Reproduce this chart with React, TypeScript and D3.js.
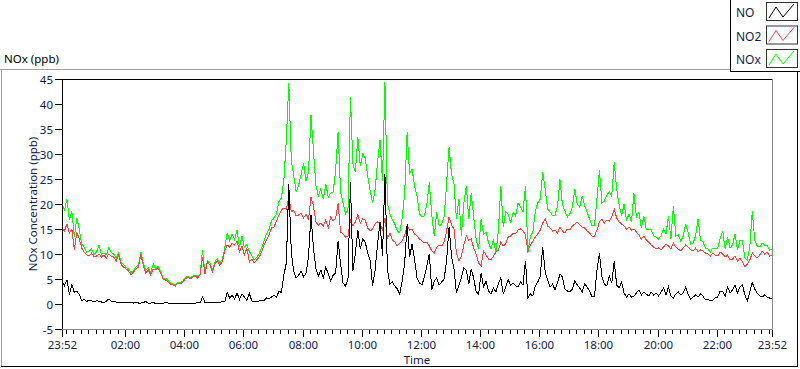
import React, { useEffect, useRef } from 'react';
import * as d3 from 'd3';

// samples every 5 minutes, starting 23:52
const startTime = new Date(2024, 0, 1, 23, 52);
const endTime = new Date(2024, 0, 2, 23, 52);
const stepMinutes = 5;

const noValues = [
  4.5,3.7, 4.8,1.9, 3.9,2.3, 2.6,1.9, 0.7,0.9, 0.5,0.8, 0.6,0.4, 0.7,0.5, 0.4,0.3, 0.6,1.0,
  0.6,0.5, 0.4,0.3, 0.3,0.4, 0.2,0.3, 0.4,0.2, 0.3,0.2, 0.2,0.3, 0.5,0.2, 0.2,0.3, 0.1,0.2,
  0.2,0.1, 0.3,0.2, 0.1,0.2, 0.2,0.1, 0.1,0.2, 0.1,0.2, 0.2,0.1, 0.1,0.3, 0.2,1.4, 0.3,0.2,
  0.3,0.2, 0.3,0.4, 0.3,0.5, 0.4,2.4, 1.2,1.8, 1.0,2.2, 0.9,2.0, 1.4,0.7, 2.1,0.6, 0.5,0.4,
  0.6,0.8, 0.7,1.2, 1.0,1.4, 1.8,1.3, 2.6,2.3, 5.8,8.2, 24.0,10.5, 6.5,5.2, 5.8,6.6, 5.4,6.2,
  9.5,17.8, 11.2,7.0, 5.6,6.8, 5.2,7.4, 6.0,4.6, 5.8,6.2, 12.6,8.0, 4.2,3.6, 5.0,24.4, 6.6,10.2,
  14.8,11.0, 13.0,12.4, 10.2,8.8, 3.6,6.8, 12.0,16.4, 9.6,26.0, 7.0,4.0, 4.4,3.6, 3.0,2.0, 4.6,8.2,
  16.0,9.4, 12.0,9.0, 5.2,4.2, 3.8,5.4, 7.6,10.0, 2.8,4.6, 5.2,3.8, 4.4,5.0, 8.6,15.4, 9.6,7.0,
  2.2,3.8, 5.2,7.2, 6.8,4.0, 7.0,5.2, 2.4,2.0, 6.2,3.4, 4.6,2.6, 2.0,3.2, 2.4,4.0, 5.2,2.0,
  3.4,4.8, 3.8,4.2, 3.6,3.4, 4.4,3.8, 8.6,1.2, 2.0,1.6, 3.6,4.4, 5.6,11.4, 6.4,4.8, 3.4,4.0,
  2.8,4.2, 6.0,5.4, 3.0,2.6, 2.4,3.0, 4.6,3.8, 3.2,2.4, 4.0,3.4, 2.6,1.4, 1.6,6.8, 10.2,5.4,
  4.0,3.6, 5.6,4.2, 8.6,3.8, 3.2,4.4, 2.2,1.4, 2.0,1.4, 1.6,2.2, 2.8,1.8, 2.4,2.0, 1.6,2.4,
  1.8,2.2, 1.6,2.4, 3.2,1.8, 3.4,1.6, 1.2,2.0, 2.4,1.8, 2.2,3.4, 1.8,1.0, 1.4,1.8, 1.4,2.0,
  1.6,0.8, 1.0,0.6, 0.8,1.2, 1.4,2.6, 2.6,1.6, 3.4,2.2, 2.8,3.8, 2.2,3.4, 3.8,1.8, 0.6,2.4,
  4.3,3.0, 2.2,1.6, 1.4,1.8, 1.4,1.2, 1.2,
];

const no2Values = [
  15.2,14.6, 16.0,14.2, 15.0,10.8, 14.4,13.0, 11.2,10.4, 9.8,9.6, 10.2,9.4, 9.6,10.0, 9.4,9.8, 9.2,10.0,
  9.6,9.4, 8.6,9.8, 7.8,7.4, 7.0,6.6, 5.8,6.4, 7.0,7.4, 10.0,7.6, 6.2,6.8, 5.8,7.0, 6.8,7.2,
  6.2,5.0, 4.8,4.4, 4.0,3.8, 3.6,4.2, 4.0,4.4, 5.0,5.4, 5.0,5.4, 5.6,5.2, 5.8,9.4, 6.0,8.4,
  7.8,6.4, 8.0,8.6, 7.8,8.4, 10.6,11.8, 11.4,12.2, 11.8,12.6, 10.4,11.6, 9.8,11.2, 8.4,9.0, 8.2,8.8,
  9.4,10.4, 11.8,12.8, 13.8,15.2, 15.4,16.6, 17.8,18.8, 19.2,19.0, 21.4,18.4, 18.8,17.6, 17.8,18.2, 17.2,18.0,
  16.8,21.4, 19.6,16.4, 15.8,16.2, 15.6,16.8, 15.2,17.4, 16.6,17.2, 20.2,14.4, 14.0,13.4, 13.6,16.8, 15.6,16.4,
  17.8,16.2, 17.0,16.8, 15.2,14.6, 15.0,16.0, 16.4,16.0, 14.8,17.2, 13.2,14.2, 12.8,12.4, 11.6,12.2, 12.6,13.8,
  15.6,14.8, 15.0,14.0, 13.6,13.0, 12.6,12.2, 12.4,11.6, 10.6,10.2, 11.4,11.8, 11.6,12.4, 14.6,17.4, 15.8,15.0,
  10.2,8.6, 9.6,11.8, 13.6,12.8, 13.0,11.2, 10.0,8.2, 7.6,10.6, 9.8,9.0, 8.8,9.6, 10.4,10.8, 12.4,11.6,
  12.0,13.4, 13.6,14.2, 14.0,14.8, 15.0,14.6, 13.8,10.6, 11.8,12.6, 13.4,14.0, 14.8,16.2, 17.0,15.6, 15.2,14.6,
  14.8,14.2, 15.4,14.6, 14.2,15.0, 14.8,15.6, 16.0,16.4, 15.8,15.4, 15.2,14.6, 14.2,13.6, 13.6,14.8, 16.4,17.0,
  16.2,16.8, 16.6,17.4, 19.0,17.2, 16.4,16.0, 15.6,15.0, 15.4,14.8, 15.0,14.4, 13.8,13.0, 13.6,12.8, 12.4,11.8,
  11.4,11.0, 11.2,10.8, 11.4,12.0, 11.6,11.0, 12.2,11.4, 11.0,10.6, 11.2,11.8, 11.4,10.8, 10.6,11.2, 10.4,10.8,
  10.6,10.2, 10.0,9.6, 10.2,9.8, 9.6,10.4, 10.0,9.4, 9.8,8.8, 9.0,9.6, 8.6,9.2, 8.4,7.4, 8.0,8.8,
  10.2,9.6, 9.2,9.8, 10.6,10.0, 10.4,9.6, 9.8,
];

const noxValues = [
  20.4,18.6, 21.0,16.8, 18.6,13.4, 17.2,15.0, 12.0,11.4, 10.4,10.6, 11.0,9.9, 10.4,11.8, 9.9,10.2, 9.9,11.2,
  10.3,10.0, 9.2,10.2, 8.2,7.9, 7.3,7.0, 6.3,6.7, 7.4,7.8, 10.4,8.0, 6.8,7.2, 6.2,8.0, 7.0,7.5,
  6.5,5.2, 5.2,4.7, 4.2,4.0, 3.8,4.3, 4.2,4.6, 5.2,5.6, 5.2,5.6, 5.8,5.5, 6.0,10.8, 6.3,8.7,
  8.2,6.7, 8.4,9.1, 8.2,8.9, 11.1,14.2, 12.7,14.0, 12.9,14.8, 11.4,13.6, 11.3,11.9, 10.5,9.7, 8.8,9.3,
  10.1,11.3, 12.6,14.1, 14.9,16.7, 17.3,18.0, 20.5,21.2, 24.8,32.8, 44.2,28.8, 25.6,22.4, 23.8,26.0, 28.1,24.6,
  26.4,37.8, 30.6,23.6, 21.6,23.0, 21.0,24.0, 21.4,22.2, 22.4,26.8, 34.4,22.4, 20.2,18.0, 18.8,41.4, 28.0,26.4,
  33.4,27.6, 30.0,29.2, 25.6,22.6, 20.2,22.8, 28.4,32.8, 24.6,44.4, 20.2,18.0, 16.9,16.0, 14.6,14.2, 17.2,22.0,
  34.4,26.0, 27.0,23.6, 21.6,18.0, 17.4,17.6, 20.0,24.3, 17.7,13.6, 18.4,15.6, 16.0,17.4, 24.0,31.4, 26.0,24.0,
  17.0,21.0, 13.6,20.2, 23.6,17.0, 22.2,17.4, 12.9,11.0, 17.0,14.0, 14.4,12.3, 11.0,12.9, 10.3,14.6, 23.6,15.4,
  18.4,18.0, 16.2,18.4, 17.6,20.2, 19.4,18.4, 23.6,10.3, 13.6,14.4, 18.6,20.2, 21.0,26.4, 23.0,19.0, 18.4,17.7,
  17.8,19.6, 24.9,19.8, 18.6,17.4, 18.0,19.4, 23.0,20.0, 19.4,21.6, 19.6,18.4, 17.0,15.6, 15.7,21.0, 26.8,20.2,
  20.6,21.8, 22.4,21.6, 28.4,23.0, 19.8,17.7, 20.0,16.8, 18.0,16.4, 22.2,17.4, 18.4,15.2, 17.6,15.0, 15.0,14.8,
  13.6,13.4, 13.0,13.6, 15.0,14.0, 17.6,13.0, 19.6,13.6, 13.8,12.6, 13.6,16.0, 14.2,12.0, 12.2,13.6, 17.0,12.8,
  12.4,11.2, 11.0,10.4, 11.2,11.0, 11.2,13.2, 14.6,11.0, 13.4,11.2, 11.8,14.0, 10.8,12.8, 12.6,9.2, 8.8,11.4,
  18.6,12.8, 11.6,11.4, 12.2,11.8, 11.8,10.8, 11.0,
];

const seriesNames = ['NO', 'NO2', 'NOx'];
const seriesColors = ['#000000', '#ff4040', '#00ff00'];
const yTicks = [-5, 0, 5, 10, 15, 20, 25, 30, 35, 40, 45];

const FONT = "'Noto Sans', 'DejaVu Sans', sans-serif";
const LABEL_COLOR = '#141c50';

const App = () => {
  const svgRef = useRef(null);

  useEffect(() => {
    const svg = d3.select(svgRef.current);
    svg.selectAll('*').remove();

    const left = 62, right = 772, top = 79, bottom = 329;

    const x = d3.scaleTime().domain([startTime, endTime]).range([left, right]);
    const y = d3.scaleLinear().domain([-5, 45]).range([bottom, top]);
    const timeAt = (i) => d3.timeMinute.offset(startTime, i * stepMinutes);

    svg.append('rect').attr('width', 800).attr('height', 369).attr('fill', '#fff');

    // outer frame
    svg.append('line').attr('x1', 1.5).attr('x2', 1.5).attr('y1', 69).attr('y2', 367).attr('stroke', '#a0a0a0');
    svg.append('line').attr('x1', 0).attr('x2', 730).attr('y1', 69.5).attr('y2', 69.5).attr('stroke', '#a0a0a0');
    svg.append('line').attr('x1', 797.5).attr('x2', 797.5).attr('y1', 72).attr('y2', 367).attr('stroke', '#000');
    svg.append('line').attr('x1', 1).attr('x2', 798).attr('y1', 366.5).attr('y2', 366.5).attr('stroke', '#000');

    svg.append('text')
      .attr('x', 4).attr('y', 63)
      .attr('font-family', FONT).attr('font-size', 11.5)
      .attr('fill', '#000')
      .text('NOx (ppb)');

    // plot lines
    svg.append('clipPath').attr('id', 'plotclip')
      .append('rect').attr('x', left).attr('y', top).attr('width', right - left).attr('height', bottom - top);

    const line = d3.line()
      .x((d, i) => x(timeAt(i)))
      .y((d) => y(d));

    const drawOrder = [
      { values: noxValues, color: seriesColors[2] },
      { values: no2Values, color: seriesColors[1] },
      { values: noValues, color: seriesColors[0] },
    ];
    const g = svg.append('g').attr('clip-path', 'url(#plotclip)');
    drawOrder.forEach((s) => {
      g.append('path')
        .datum(s.values)
        .attr('d', line)
        .attr('fill', 'none')
        .attr('stroke', s.color)
        .attr('stroke-width', 1)
        .attr('shape-rendering', 'crispEdges');
    });

    // plot border
    svg.append('line').attr('x1', left).attr('x2', right).attr('y1', top + 0.5).attr('y2', top + 0.5).attr('stroke', '#000');
    svg.append('line').attr('x1', left + 0.5).attr('x2', left + 0.5).attr('y1', top).attr('y2', bottom + 1).attr('stroke', '#000');
    svg.append('line').attr('x1', right + 0.5).attr('x2', right + 0.5).attr('y1', top).attr('y2', bottom + 1).attr('stroke', '#8a8a8a');
    svg.append('line').attr('x1', left).attr('x2', right + 1).attr('y1', bottom + 0.5).attr('y2', bottom + 0.5).attr('stroke', '#8a8a8a');

    // y axis
    const yAxis = svg.append('g');
    yTicks.forEach((t) => {
      const py = Math.round(y(t)) + 0.5;
      yAxis.append('line').attr('x1', 55).attr('x2', left).attr('y1', py).attr('y2', py).attr('stroke', '#000');
      yAxis.append('text')
        .attr('x', 53).attr('y', py + 4)
        .attr('text-anchor', 'end')
        .attr('font-family', FONT).attr('font-size', 11.5)
        .attr('fill', LABEL_COLOR)
        .text(t);
    });
    svg.append('text')
      .attr('transform', `translate(37, ${(top + bottom) / 2}) rotate(-90)`)
      .attr('text-anchor', 'middle')
      .attr('font-family', FONT).attr('font-size', 11.5)
      .attr('fill', LABEL_COLOR)
      .text('NOx Concentration (ppb)');

    // x axis: minor ticks every 15 min, labels every 2 h plus both ends
    const fmt = d3.timeFormat('%H:%M');
    const minorTicks = d3.timeMinute.every(15).range(startTime, endTime);
    const evenHours = d3.timeHour.every(2)
      .range(d3.timeMinute.offset(startTime, 1), endTime)
      .filter((t) => t.getHours() !== 0);
    const majorTicks = [startTime, ...evenHours, endTime];
    minorTicks.forEach((t) => {
      const px = Math.round(x(t)) + 0.5;
      svg.append('line').attr('x1', px).attr('x2', px).attr('y1', bottom + 1).attr('y2', bottom + 5).attr('stroke', '#000');
    });
    majorTicks.forEach((t) => {
      const px = Math.round(x(t)) + 0.5;
      svg.append('line').attr('x1', px).attr('x2', px).attr('y1', bottom + 1).attr('y2', bottom + 8).attr('stroke', '#000');
      svg.append('text')
        .attr('x', px).attr('y', 349)
        .attr('text-anchor', 'middle')
        .attr('font-family', FONT).attr('font-size', 11.5)
        .attr('fill', LABEL_COLOR)
        .text(fmt(t));
    });
    svg.append('text')
      .attr('x', (left + right) / 2).attr('y', 364)
      .attr('text-anchor', 'middle')
      .attr('font-family', FONT).attr('font-size', 11.5)
      .attr('fill', LABEL_COLOR)
      .text('Time');

    // legend
    const legend = svg.append('g');
    legend.append('rect').attr('x', 730.5).attr('y', -1).attr('width', 72).attr('height', 72.5)
      .attr('fill', '#fff').attr('stroke', '#000');
    seriesNames.forEach((name, i) => {
      const ly = 2 + i * 23.5;
      legend.append('text')
        .attr('x', 736).attr('y', ly + 15)
        .attr('font-family', FONT).attr('font-size', 12)
        .attr('fill', LABEL_COLOR)
        .text(name);
      legend.append('rect').attr('x', 766.5).attr('y', ly + 0.5).attr('width', 31).attr('height', 18)
        .attr('fill', '#fff').attr('stroke', '#333');
      const zig = [[769, ly + 16], [776, ly + 5], [783, ly + 15], [794, ly + 2]];
      legend.append('path')
        .attr('d', d3.line()(zig))
        .attr('fill', 'none')
        .attr('stroke', seriesColors[i]);
    });
  }, []);

  return (
    <svg
      ref={svgRef}
      width={800}
      height={369}
      style={{ position: 'absolute', left: 0, top: 0, display: 'block' }}
    />
  );
};

export default App;
